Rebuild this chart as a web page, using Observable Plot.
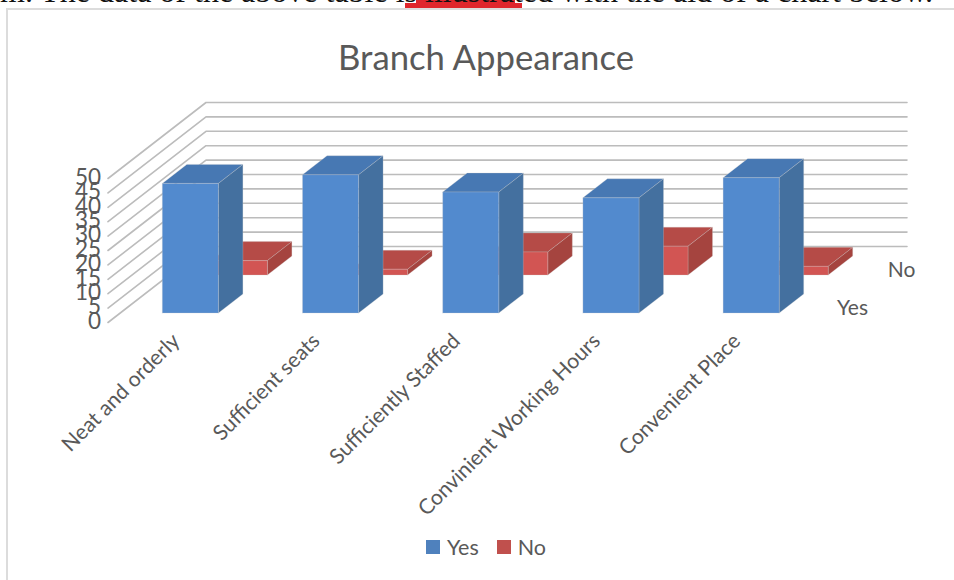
<!DOCTYPE html>
<html>
<head>
<meta charset="utf-8">
<script src="https://cdn.jsdelivr.net/npm/d3@7"></script>
<script src="https://cdn.jsdelivr.net/npm/@observablehq/plot@0.6"></script>
<style>
  html, body { margin: 0; padding: 0; background: #fff; overflow: hidden; }
  body { width: 954px; height: 580px; position: relative; font-family: Lato, sans-serif; }
  .clip { position: absolute; left: 0; top: 0; width: 954px; height: 8px; overflow: hidden; }
  .lead { position: absolute; left: 0; top: -25px; white-space: nowrap;
          font: 32px/32px "Liberation Serif", serif; color: #111; }
  .mark { position: absolute; left: 405px; top: 3px; width: 117px; height: 6px; background: #e0262c; }
  .mark.upper { left: 416px; top: 0; width: 99px; height: 4px; }
  .frame { position: absolute; left: 6px; top: 8px; width: 960px; height: 590px; border: 2px solid #dcdcdc; box-sizing: border-box; }
  h1 { position: absolute; left: 0; top: 35px; width: 972px; margin: 0; text-align: center;
       font: 400 34.7px/44px Lato, sans-serif; color: #595959; }
  #chart { position: absolute; left: 0; top: 0; }
  .legend { position: absolute; top: 535px; left: 426px; display: flex; align-items: center;
            font: 21.5px/24px Lato, sans-serif; color: #595959; }
  .legend i { display: inline-block; width: 14px; height: 14px; margin-right: 7px; }
  .legend span { margin-right: 18px; }
</style>
</head>
<body>
<div class="mark"></div>
<div class="mark upper"></div>
<div class="clip"><div class="lead">m. The data of the above table is illustrated with the aid of a chart below.</div></div>
<div class="frame"></div>
<h1>Branch Appearance</h1>
<div id="chart"></div>
<div class="legend"><i style="background:#4f81bd"></i><span>Yes</span><i style="background:#c0504d"></i><span>No</span></div>
<script>
const categories = ["Neat and orderly", "Sufficient seats", "Sufficiently Staffed", "Convinient Working Hours", "Convenient Place"];
const yes = [45, 48, 42, 40, 47];
const no = [5, 2, 8, 10, 3];
const valueTicks = [0, 5, 10, 15, 20, 25, 30, 35, 40, 45, 50];

// Oblique projection: depth t (0 front, 1 back) slides a point right and up.
const shearX = 0.699;   // categories per unit of depth
const shearY = 26.39;   // value units per unit of depth
const project = (c, v, t) => ({x: c + t * shearX, y: v + t * shearY});

// One closed polygon per face of a bar.
function faces(values, t0, t1, colors) {
  const rows = [];
  values.forEach((v, i) => {
    const a = i + 0.3, b = i + 0.7;
    const face = (name, color, pts) => [...pts, pts[0]].forEach(([c, h, t]) =>
      rows.push({...project(c, h, t), id: `${i}-${name}`, color}));
    face("top", colors.top, [[a, v, t0], [b, v, t0], [b, v, t1], [a, v, t1]]);
    face("side", colors.side, [[b, 0, t0], [b, 0, t1], [b, v, t1], [b, v, t0]]);
    face("front", colors.front, [[a, 0, t0], [b, 0, t0], [b, v, t0], [a, v, t0]]);
  });
  return rows;
}

const bar = (rows) => Plot.line(rows, {x: "x", y: "y", z: "id", fill: "color", stroke: "#c9c9c9", strokeWidth: 0.6, strokeOpacity: 0.45, strokeLinejoin: "round"});

// Grid runs along the left wall and then the back wall.
const grid = valueTicks.flatMap((v) => [
  {...project(0, v, 0), v}, {...project(0, v, 1), v}, {...project(5, v, 1), v}
]);

const plot = Plot.plot({
  width: 954,
  height: 580,
  margin: 0,
  style: {background: "transparent", overflow: "visible"},
  x: {domain: [0, 5 + shearX], range: [107.5, 906.5], axis: null},
  y: {domain: [0, 50 + shearY], range: [322, 102], axis: null},
  color: {type: "identity"},
  marks: [
    Plot.line(grid, {x: "x", y: "y", z: "v", stroke: "#bcbcbc", strokeWidth: 1.6}),
    bar(faces(no, 0.625, 0.875, {top: "#b54b47", side: "#a5443f", front: "#d25553"})),
    bar(faces(yes, 0.125, 0.375, {top: "#4778b3", side: "#44709f", front: "#528aCE"})),
    Plot.text(valueTicks, {
      x: () => 0, y: (d) => d, text: (d) => String(d), textAnchor: "end",
      dx: -7, dy: -1, fontSize: 22.5, fontFamily: "Lato, sans-serif", fill: "#595959"
    }),
    Plot.text(categories, {
      x: (d, i) => i + 0.5, y: () => 0, text: (d) => d, rotate: -45, textAnchor: "end",
      dx: -2, dy: 15, fontSize: 21.2, fontFamily: "Lato, sans-serif", fill: "#595959"
    }),
    Plot.text(["Yes", "No"], {
      x: (d, i) => 5 + (i ? 0.75 : 0.25) * shearX, y: (d, i) => (i ? 0.75 : 0.25) * shearY,
      text: (d) => d, dx: 19, dy: 5, fontSize: 21, fontFamily: "Lato, sans-serif", fill: "#595959"
    })
  ]
});
document.getElementById("chart").append(plot);
</script>
</body>
</html>
